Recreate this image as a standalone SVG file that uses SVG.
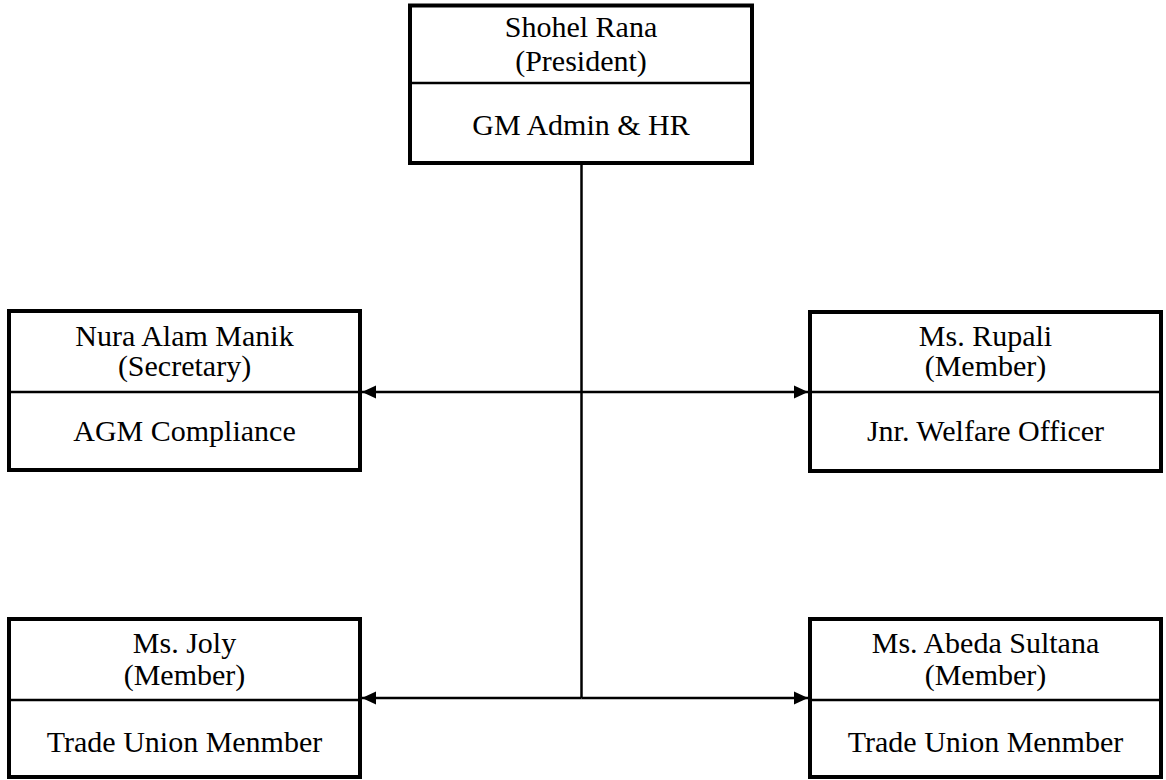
<svg xmlns="http://www.w3.org/2000/svg" width="1166" height="780" viewBox="0 0 1166 780">
<style>
.box{fill:#fff;stroke:#000;stroke-width:4}
.div{stroke:#000;stroke-width:2.5}
.t{font-family:"Liberation Serif","Times New Roman",serif;font-size:30px;fill:#000;text-anchor:middle}
.c{stroke:#000;stroke-width:2.5;fill:none}
</style>
<defs>
<marker id="ah" markerUnits="userSpaceOnUse" markerWidth="14" markerHeight="14" refX="14" refY="7" orient="auto">
<path d="M0,0.5 L14,7 L0,13.5 Z" fill="#000"/>
</marker>
</defs>
<rect width="1166" height="780" fill="#fff"/>
<g id="connectors">
<line class="c" x1="581.5" y1="165" x2="581.5" y2="698"/>
<line class="c" x1="581.5" y1="392" x2="362" y2="392" marker-end="url(#ah)"/>
<line class="c" x1="581.5" y1="392" x2="808" y2="392" marker-end="url(#ah)"/>
<line class="c" x1="581.5" y1="698" x2="362" y2="698" marker-end="url(#ah)"/>
<line class="c" x1="581.5" y1="698" x2="808" y2="698" marker-end="url(#ah)"/>
</g>
<g id="node-president">
<rect class="box" x="410" y="5.5" width="342" height="157.5"/>
<line class="div" x1="410" y1="83" x2="752" y2="83"/>
<text class="t" x="581" y="37">Shohel Rana</text>
<text class="t" x="581" y="71">(President)</text>
<text class="t" x="581" y="135">GM Admin &amp; HR</text>
</g>
<g id="node-secretary">
<rect class="box" x="9" y="311" width="351" height="159"/>
<line class="div" x1="9" y1="392" x2="360" y2="392"/>
<text class="t" x="184.5" y="346">Nura Alam Manik</text>
<text class="t" x="184.5" y="376">(Secretary)</text>
<text class="t" x="184.5" y="441">AGM Compliance</text>
</g>
<g id="node-rupali">
<rect class="box" x="810" y="312" width="351" height="159"/>
<line class="div" x1="810" y1="392" x2="1161" y2="392"/>
<text class="t" x="985.5" y="346">Ms. Rupali</text>
<text class="t" x="985.5" y="376">(Member)</text>
<text class="t" x="985.5" y="441">Jnr. Welfare Officer</text>
</g>
<g id="node-joly">
<rect class="box" x="9" y="619" width="351" height="158"/>
<line class="div" x1="9" y1="700" x2="360" y2="700"/>
<text class="t" x="184.5" y="653">Ms. Joly</text>
<text class="t" x="184.5" y="685">(Member)</text>
<text class="t" x="184.5" y="752">Trade Union Menmber</text>
</g>
<g id="node-abeda">
<rect class="box" x="810" y="619" width="351" height="158"/>
<line class="div" x1="810" y1="700" x2="1161" y2="700"/>
<text class="t" x="985.5" y="653">Ms. Abeda Sultana</text>
<text class="t" x="985.5" y="685">(Member)</text>
<text class="t" x="985.5" y="752">Trade Union Menmber</text>
</g>
</svg>
